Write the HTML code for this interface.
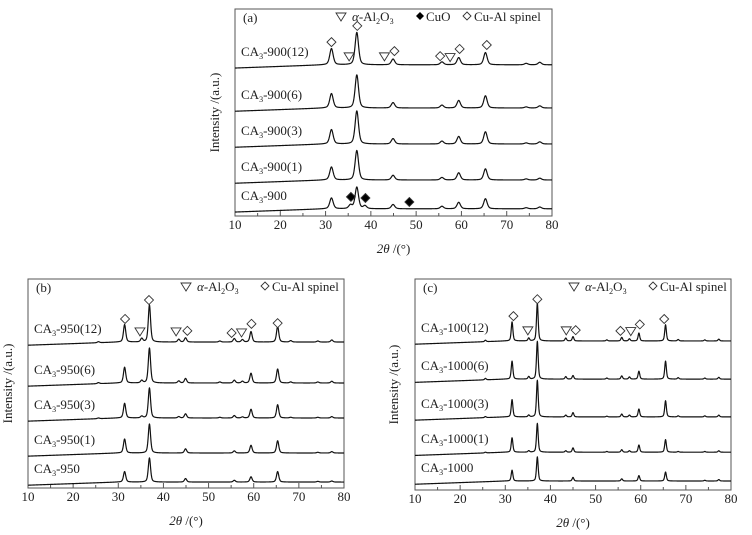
<!DOCTYPE html>
<html><head><meta charset="utf-8"><style>
html,body{margin:0;padding:0;background:#fff;}
svg{display:block;font-family:"Liberation Serif",serif;}
</style></head><body>
<svg id="fig" width="752" height="535" viewBox="0 0 752 535"></svg>
<script>
// ---------- Panel (a) data ----------
const aPeaks = [31.3, 35.5, 36.9, 38.7, 44.9, 55.7, 59.4, 65.3, 74.3, 77.3];
const aOffsets = [0.2, 1.0, 2.0, 3.0, 4.2];
const aLabels = ["CA3-900", "CA3-900(1)", "CA3-900(3)", "CA3-900(6)", "CA3-900(12)"];
const aH0 = [0.30, 0.10, 0.60, 0.08, 0.12, 0.07, 0.18, 0.28, 0.03, 0.05];
const aH1 = [0.36, 0, 0.82, 0, 0.13, 0.07, 0.20, 0.31, 0.03, 0.05];
const aH3 = [0.40, 0, 0.92, 0, 0.15, 0.08, 0.21, 0.34, 0.03, 0.06];
const aH6 = [0.40, 0, 0.92, 0, 0.15, 0.08, 0.21, 0.34, 0.03, 0.06];
const aH12 = [0.45, 0, 0.90, 0, 0.16, 0.08, 0.20, 0.34, 0.04, 0.07];
const aDiaX = [31.3, 37.0, 45.2, 55.3, 59.6, 65.6];
const aDiaY = [4.83, 5.28, 4.58, 4.44, 4.64, 4.75];
const aTriX = [35.2, 43.0, 57.5];
const aTriY = [4.42, 4.42, 4.40];
const aCuoX = [35.6, 38.8, 48.5];
const aCuoY = [0.53, 0.50, 0.39];

// ---------- Panel (b) data ----------
const bPeaks = [25.6, 31.4, 35.2, 36.9, 43.4, 44.9, 52.5, 55.7, 57.5, 59.4, 65.3, 68.2, 74.2, 77.3];
const bOffsets = [0.17, 1.0, 2.0, 3.0, 4.17];
const bLabels = ["CA3-950", "CA3-950(1)", "CA3-950(3)", "CA3-950(6)", "CA3-950(12)"];
const bH0 = [0, 0.30, 0, 0.69, 0, 0.10, 0, 0.05, 0, 0.15, 0.30, 0, 0.02, 0.03];
const bH1 = [0, 0.40, 0, 0.83, 0, 0.12, 0, 0.06, 0, 0.22, 0.35, 0, 0.02, 0.04];
const bH3 = [0.02, 0.42, 0.05, 0.86, 0.04, 0.12, 0.02, 0.07, 0.03, 0.25, 0.38, 0.02, 0.02, 0.04];
const bH6 = [0.03, 0.45, 0.07, 1.0, 0.06, 0.13, 0.03, 0.08, 0.05, 0.28, 0.40, 0.03, 0.03, 0.05];
const bH12 = [0.03, 0.50, 0.10, 1.06, 0.08, 0.12, 0.03, 0.10, 0.07, 0.30, 0.45, 0.04, 0.03, 0.06];
const bDiaX = [31.5, 36.8, 45.3, 55.1, 59.5, 65.3];
const bDiaY = [4.83, 5.37, 4.49, 4.43, 4.69, 4.71];
const bTriX = [34.8, 42.8, 57.3];
const bTriY = [4.46, 4.46, 4.43];

// ---------- Panel (c) data ----------
const cPeaks = [25.6, 31.5, 35.2, 37.1, 43.4, 45.0, 52.5, 55.8, 57.5, 59.6, 65.5, 68.3, 74.2, 77.3];
const cOffsets = [0.25, 1.05, 2.03, 3.08, 4.14];
const cLabels = ["CA3-1000", "CA3-1000(1)", "CA3-1000(3)", "CA3-1000(6)", "CA3-100(12)"];
const cH0 = [0, 0.30, 0, 0.67, 0, 0.10, 0, 0.06, 0, 0.15, 0.25, 0, 0.02, 0.04];
const cH1 = [0.02, 0.40, 0.04, 0.80, 0.04, 0.12, 0.02, 0.07, 0.04, 0.20, 0.35, 0.02, 0.02, 0.04];
const cH3 = [0.03, 0.48, 0.05, 1.02, 0.05, 0.12, 0.02, 0.08, 0.05, 0.22, 0.45, 0.03, 0.03, 0.05];
const cH6 = [0.04, 0.50, 0.07, 1.05, 0.07, 0.10, 0.03, 0.09, 0.06, 0.22, 0.50, 0.04, 0.03, 0.05];
const cH12 = [0.04, 0.53, 0.08, 1.05, 0.08, 0.12, 0.03, 0.10, 0.06, 0.22, 0.45, 0.04, 0.03, 0.05];
const cDiaX = [31.8, 37.1, 45.6, 55.5, 59.8, 65.2];
const cDiaY = [4.83, 5.30, 4.44, 4.42, 4.60, 4.75];
const cTriX = [35.0, 43.5, 57.8];
const cTriY = [4.42, 4.42, 4.40];

const xTicks = [10, 20, 30, 40, 50, 60, 70, 80];

const NS = "http://www.w3.org/2000/svg";
const svg = document.getElementById("fig");
function mk(tag, attrs, parent) {
  const e = document.createElementNS(NS, tag);
  for (const k in attrs) e.setAttribute(k, attrs[k]);
  (parent || svg).appendChild(e);
  return e;
}

function panel(cfg) {
  const g = mk("g", {});
  
  
  const L = cfg.left, R = cfg.right, T = cfg.top, B = cfg.bottom;
  const unit = cfg.unit;
  const sx = v => L + (v - 10) / 70 * (R - L);
  const sy = v => B - v * unit;

  const frame = mk("rect", {x: L, y: T, width: R - L, height: B - T, fill: "none", stroke: "#555", "stroke-width": 1}, g);
  
  

  for (let v = 10; v <= 80; v += 5) {
    const major = v % 10 === 0;
    const t = mk("line", {x1: sx(v), x2: sx(v), y1: B, y2: B - (major ? 5 : 3), stroke: "#555", "stroke-width": 1}, g);
    
    
  }
  xTicks.forEach(v => {
    const t = mk("text", {x: sx(v), y: B + 13, "font-size": 13, "text-anchor": "middle", fill: "#222"}, g);
    t.textContent = v;
    
    
  });
  const xt = mk("text", {x: (L + R) / 2, y: B + 37, "font-size": 13, "text-anchor": "middle", fill: "#222"}, g);
  xt.innerHTML = '<tspan font-style="italic">2θ</tspan> /(°)';
  
  
  const yc = (T + B) / 2;
  const yt = mk("text", {x: cfg.ytx, y: yc, "font-size": 13, "text-anchor": "middle", fill: "#222", transform: `rotate(-90 ${cfg.ytx} ${yc})`}, g);
  yt.textContent = "Intensity /(a.u.)";
  
  

  const tag = mk("text", {x: L + 8, y: T + 13, "font-size": 13, fill: "#222"}, g);
  tag.textContent = "(" + cfg.id + ")";
  
  

  cfg.series.forEach((hs, i) => {
    const off = cfg.offsets[i];
    let d = "";
    for (let x = 10; x <= 80.001; x += 0.05) {
      let y = off - 0.09 * Math.max(0, (30 - x) / 20);
      cfg.peaks.forEach((p, k) => {
        const h = hs[k];
        if (!h) return;
        const z = (x - p) / cfg.w;
        y += h * (0.55 * Math.exp(-Math.LN2 * z * z) + 0.45 / (1 + z * z));
      });
      d += (d ? "L" : "M") + sx(x).toFixed(2) + " " + sy(y).toFixed(2);
    }
    const p = mk("path", {d: d, fill: "none", stroke: "#111", "stroke-width": 1.2, "stroke-linejoin": "round"}, g);
    
    

    const lbl = cfg.labels[i];
    const m = lbl.match(/^CA3(.*)$/);
    const t = mk("text", {x: L + 6, y: sy(off) - 9, "font-size": 13, fill: "#222"}, g);
    t.innerHTML = 'CA<tspan font-size="8" dy="3">3</tspan><tspan dy="-3">' + m[1] + '</tspan>';
    
    
  });

  const dia = (x, y, fill, name) => {
    const cx = sx(x), cy = sy(y), r = 4.5;
    const e = mk("polygon", {points: `${cx},${cy - r} ${cx + r},${cy} ${cx},${cy + r} ${cx - r},${cy}`, fill: fill, stroke: "#333", "stroke-width": 0.9}, g);
    
    
  };
  const tri = (x, y) => {
    const cx = sx(x), cy = sy(y);
    const e = mk("polygon", {points: `${cx - 5},${cy - 4} ${cx + 5},${cy - 4} ${cx},${cy + 4}`, fill: "#fff", stroke: "#333", "stroke-width": 0.9}, g);
    
    
  };
  cfg.diaX.forEach((x, i) => dia(x, cfg.diaY[i], "#fff", 'spinel-marker'));
  cfg.triX.forEach((x, i) => tri(x, cfg.triY[i]));
  if (cfg.cuoX) cfg.cuoX.forEach((x, i) => dia(x, cfg.cuoY[i], "#000", 'cuo-marker'));

  const lg = mk("g", {}, g);
  
  
  const ly = T + 12;
  let lx = cfg.legendX;
  const ti = mk("polygon", {points: `${lx},${ly - 8} ${lx + 10},${ly - 8} ${lx + 5},${ly}`, fill: "#fff", stroke: "#333", "stroke-width": 0.9}, lg);
  
  
  const t1 = mk("text", {x: lx + 16, y: ly, "font-size": 13, fill: "#222"}, lg);
  t1.innerHTML = '<tspan font-style="italic">α</tspan>-Al<tspan font-size="8" dy="3">2</tspan><tspan dy="-3">O</tspan><tspan font-size="8" dy="3">3</tspan>';
  
  
  lx += 80;
  if (cfg.cuoX) {
    const c = lx;
    const ci = mk("polygon", {points: `${c + 4},${ly - 9} ${c + 8},${ly - 5} ${c + 4},${ly - 1} ${c},${ly - 5}`, fill: "#000"}, lg);
    
    
    const t2 = mk("text", {x: lx + 10, y: ly, "font-size": 13, fill: "#222"}, lg);
    t2.textContent = "CuO";
    
    
    lx += 47;
  }
  const si = mk("polygon", {points: `${lx + 4},${ly - 9} ${lx + 8},${ly - 5} ${lx + 4},${ly - 1} ${lx},${ly - 5}`, fill: "#fff", stroke: "#333", "stroke-width": 0.9}, lg);
  
  
  const t3 = mk("text", {x: lx + 11, y: ly, "font-size": 13, fill: "#222"}, lg);
  t3.textContent = "Cu-Al spinel";
  
  
}

panel({id: "a", left: 235, right: 552, top: 9, bottom: 216, unit: 36, ytx: 219, w: 0.45,
  peaks: aPeaks, offsets: aOffsets, labels: aLabels, series: [aH0, aH1, aH3, aH6, aH12],
  diaX: aDiaX, diaY: aDiaY, triX: aTriX, triY: aTriY, cuoX: aCuoX, cuoY: aCuoY, legendX: 336});
panel({id: "b", left: 28, right: 344, top: 279, bottom: 488, unit: 35, ytx: 12, w: 0.30,
  peaks: bPeaks, offsets: bOffsets, labels: bLabels, series: [bH0, bH1, bH3, bH6, bH12],
  diaX: bDiaX, diaY: bDiaY, triX: bTriX, triY: bTriY, legendX: 181});
panel({id: "c", left: 415, right: 731, top: 279, bottom: 490, unit: 36, ytx: 398, w: 0.22,
  peaks: cPeaks, offsets: cOffsets, labels: cLabels, series: [cH0, cH1, cH3, cH6, cH12],
  diaX: cDiaX, diaY: cDiaY, triX: cTriX, triY: cTriY, legendX: 569});
</script>
</body></html>
